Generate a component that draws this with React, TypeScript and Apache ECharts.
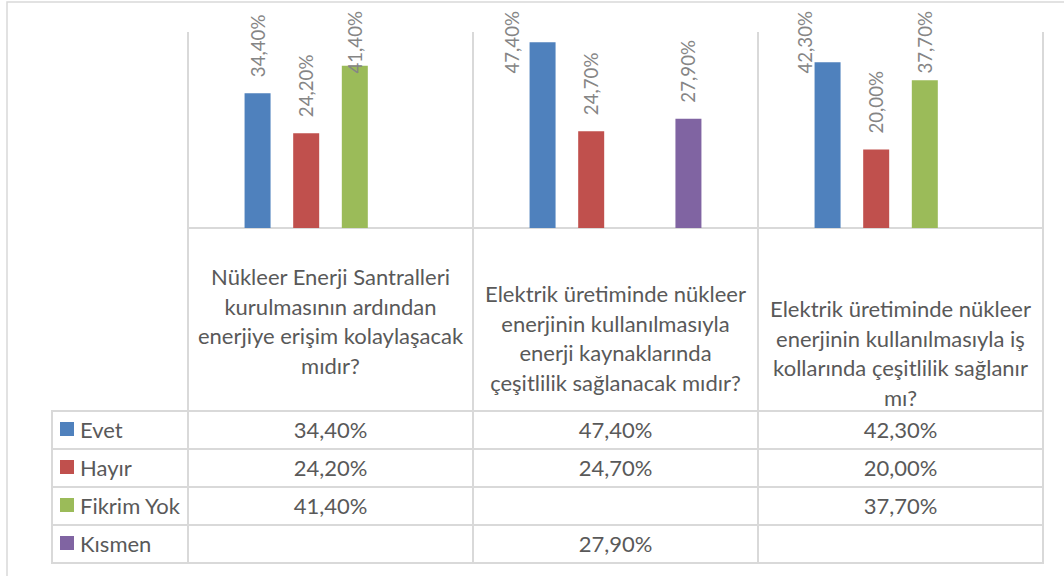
import React, { useEffect, useRef } from 'react';
import * as echarts from 'echarts';

// ---------- data ----------
const categories = [
  'Nükleer Enerji Santralleri\nkurulmasının ardından\nenerjiye erişim kolaylaşacak\nmıdır?',
  'Elektrik üretiminde nükleer\nenerjinin kullanılmasıyla\nenerji kaynaklarında\nçeşitlilik sağlanacak mıdır?',
  'Elektrik üretiminde nükleer\nenerjinin kullanılmasıyla iş\nkollarında çeşitlilik sağlanır\nmı?',
];
const seriesNames = ['Evet', 'Hayır', 'Fikrim Yok', 'Kısmen'];
const evet = [34.4, 47.4, 42.3];
const hayir = [24.2, 24.7, 20.0];
const fikrimYok: (number | null)[] = [41.4, null, 37.7];
const kismen: (number | null)[] = [null, 27.9, null];
const seriesValues = [evet, hayir, fikrimYok, kismen];
const seriesColors = ['#4f81bd', '#c0504d', '#9bbb59', '#8064a2'];
const yMin = 0;
const yMax = 50;

// ---------- layout ----------
const W = 1064;
const H = 576;
const GRID_L = 188;
const GRID_R = 1043;
const GRID_T = 32;
const GRID_B = 228;
const TABLE_L = 52;
const HEAD_B = 411;
const ROW_H = 38;
const CAT_TOP = [262, 279, 294];
const FONT = 'Lato, "Open Sans", sans-serif';
const TXT = '#595959';
const LINE = '#d9d9d9';
const TBL_SIZE = 22;
const LBL_SIZE = 18.7;
const LBL_DIST = 16;
const LBL_MIN_TOP = 11;

const fmt = (v: number) => v.toFixed(2).replace('.', ',') + '%';

function measure(text: string, size: number) {
  const c = document.createElement('canvas');
  const ctx = c.getContext('2d')!;
  ctx.font = `${size}px Lato`;
  return ctx.measureText(text).width;
}

export default function App() {
  const ref = useRef<HTMLDivElement>(null);
  useEffect(() => {
    if (!ref.current) return;
    const chart = echarts.init(ref.current, null, { renderer: 'svg', width: W, height: H });
    const colW = (GRID_R - GRID_L) / categories.length;
    const nRows = seriesNames.length;
    const tableB = HEAD_B + nRows * ROW_H;

    const graphics: any[] = [];
    // outer chart border
    graphics.push({
      type: 'rect', shape: { x: 7, y: 2, width: 1200, height: 800 },
      style: { fill: 'none', stroke: LINE, lineWidth: 1.5 }, silent: true,
    });
    // table verticals below plot
    for (let k = 0; k <= categories.length; k++) {
      const x = GRID_L + k * colW;
      graphics.push({ type: 'line', shape: { x1: x, y1: GRID_B, x2: x, y2: tableB }, style: { stroke: LINE, lineWidth: 2 }, silent: true });
    }
    graphics.push({ type: 'line', shape: { x1: TABLE_L, y1: HEAD_B, x2: TABLE_L, y2: tableB }, style: { stroke: LINE, lineWidth: 2 }, silent: true });
    // table horizontals
    for (let r = 0; r <= nRows; r++) {
      const y = HEAD_B + r * ROW_H;
      graphics.push({ type: 'line', shape: { x1: TABLE_L - 1, y1: y, x2: GRID_R + 1, y2: y }, style: { stroke: LINE, lineWidth: 2 }, silent: true });
    }
    // category header texts
    categories.forEach((c, i) => {
      graphics.push({
        type: 'text', silent: true,
        style: {
          text: c, x: GRID_L + (i + 0.5) * colW, y: CAT_TOP[i],
          align: 'center', verticalAlign: 'top', fontSize: TBL_SIZE, fontFamily: FONT, fill: TXT, lineHeight: 29.5,
        },
      });
    });
    // legend keys + series names in the data table
    seriesNames.forEach((name, r) => {
      const cy = HEAD_B + (r + 0.5) * ROW_H;
      graphics.push({ type: 'rect', silent: true, shape: { x: 60, y: cy - 8, width: 14, height: 14 }, style: { fill: seriesColors[r] } });
      graphics.push({
        type: 'text', silent: true,
        style: { text: name, x: 80, y: cy - 1, align: 'left', verticalAlign: 'middle', fontSize: TBL_SIZE, fontFamily: FONT, fill: TXT },
      });
    });
    // table values
    seriesValues.forEach((arr, r) => {
      arr.forEach((v, i) => {
        if (v == null) return;
        graphics.push({
          type: 'text', silent: true,
          style: {
            text: fmt(v), x: GRID_L + (i + 0.5) * colW, y: HEAD_B + (r + 0.5) * ROW_H - 1,
            align: 'center', verticalAlign: 'middle', fontSize: TBL_SIZE, fontFamily: FONT, fill: TXT,
          },
        });
      });
    });

    const makeSeries = (adj: ({ d: number; sx: number } | null)[][] | null) =>
      seriesNames.map((name, s) => ({
        name, type: 'bar', barWidth: 26, barGap: '87%',
        itemStyle: { color: seriesColors[s] },
        label: {
          show: true, position: 'top', rotate: 90, align: 'left', verticalAlign: 'middle',
          distance: LBL_DIST, color: '#858585', fontSize: LBL_SIZE, fontFamily: FONT,
          formatter: (p: any) => fmt(p.value),
        },
        data: seriesValues[s].map((v, i) => {
          if (v == null) return null;
          const a = adj ? adj[s][i] : null;
          if (!a) return v;
          return { value: v, label: { distance: a.d, offset: [0, a.sx] } };
        }),
      }));

    const option: any = {
      animation: false,
      backgroundColor: '#ffffff',
      grid: { left: GRID_L, right: W - GRID_R, top: GRID_T, bottom: H - GRID_B, containLabel: false },
      xAxis: {
        type: 'category', data: categories,
        axisLabel: { show: false }, axisTick: { show: false },
        axisLine: { show: true, lineStyle: { color: LINE, width: 2 } },
        splitLine: { show: true, lineStyle: { color: LINE, width: 2 } },
      },
      yAxis: { type: 'value', min: yMin, max: yMax, show: false, splitLine: { show: false } },
      graphic: graphics,
      series: makeSeries(null),
    };
    chart.setOption(option);

    // keep labels inside the chart top; if they would sink deep into the bar, put them beside it
    const adj = seriesValues.map((arr) =>
      arr.map((v, i) => {
        if (v == null) return null;
        const top = chart.convertToPixel({ xAxisIndex: 0, yAxisIndex: 0 }, [i, v])[1];
        const L = measure(fmt(v), LBL_SIZE);
        const d = Math.min(LBL_DIST, top - LBL_MIN_TOP - L);
        const sx = d < -10 ? -(18 - d * 0.4) : 0;
        return { d, sx };
      }));
    chart.setOption({ series: makeSeries(adj) });

    return () => chart.dispose();
  }, []);
  return <div ref={ref} style={{ position: 'fixed', left: 0, top: 0, width: W, height: H }} />;
}
